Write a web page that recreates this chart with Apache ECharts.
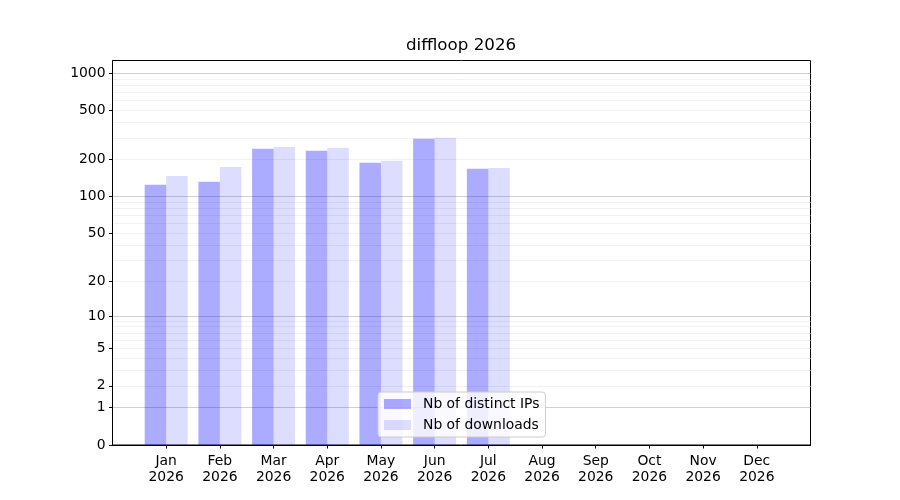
<!DOCTYPE html>
<html>
<head>
<meta charset="utf-8">
<script src="https://cdn.jsdelivr.net/npm/echarts@6/dist/echarts.min.js"></script>
<style>
  html, body { margin: 0; padding: 0; background: #fff; }
  #chart { width: 900px; height: 500px; }
</style>
</head>
<body>
<div id="chart"></div>
<script>
// data
const months = ['Jan', 'Feb', 'Mar', 'Apr', 'May', 'Jun', 'Jul', 'Aug', 'Sep', 'Oct', 'Nov', 'Dec'];
const year = '2026';
const distinctIps = [125, 132, 244, 235, 188, 294, 168, null, null, null, null, null];
const downloads = [147, 174, 253, 249, 195, 300, 171, null, null, null, null, null];
const yTicks = [0, 1, 2, 5, 10, 20, 50, 100, 200, 500, 1000];
const yMajorGrid = [1, 10, 100, 1000];
const yMinorGrid = [2, 3, 4, 5, 6, 7, 8, 9, 20, 30, 40, 50, 60, 70, 80, 90, 200, 300, 400, 500, 600, 700, 800, 900];

// symlog-like scale: log10(1 + v)
const fwd = v => (v == null ? null : Math.log10(1 + v));
const inv = t => Math.round(Math.pow(10, t) - 1);
const yMax = 3.102;

// pad one empty slot on each side, like matplotlib's margins
const cats = [''].concat(months.map(m => m + '\n' + year), ['']);
const pad = arr => [null].concat(arr.map(fwd), [null]);

const font = 'DejaVu Sans';
const chart = echarts.init(document.getElementById('chart'));

const hiddenY = (vals, color) => ({
  type: 'value',
  min: 0,
  max: yMax,
  position: 'left',
  axisLine: { show: false },
  axisLabel: { show: false },
  axisTick: { show: false, customValues: vals.map(fwd) },
  splitLine: { show: true, lineStyle: { color: color, width: 0.8 } }
});

chart.setOption({
  animation: false,
  title: {
    text: 'diffloop 2026',
    left: 406,
    top: 37,
    padding: 0,
    textStyle: { fontFamily: font, fontSize: 16.7, fontWeight: 'normal', color: '#000' }
  },
  legend: {
    orient: 'vertical',
    left: 378,
    top: 392,
    padding: [5, 6, 5, 6],
    itemGap: 7,
    itemWidth: 27,
    itemHeight: 10,
    icon: 'rect',
    borderColor: '#cccccc',
    borderWidth: 1,
    borderRadius: 3,
    backgroundColor: 'rgba(255,255,255,0.8)',
    textStyle: { fontFamily: font, fontSize: 13.9, color: '#000', lineHeight: 14, padding: [0, 0, 0, 7] },
    data: ['Nb of distinct IPs', 'Nb of downloads']
  },
  grid: {
    left: 112.5,
    right: 89.5,
    top: 60.5,
    bottom: 55,
    show: true,
    borderColor: '#000',
    borderWidth: 1,
    backgroundColor: 'transparent'
  },
  xAxis: {
    type: 'category',
    data: cats,
    boundaryGap: false,
    axisLine: { lineStyle: { color: '#000', width: 1 } },
    axisTick: {
      length: 3.5,
      interval: (i) => i > 0 && i < cats.length - 1,
      lineStyle: { color: '#000' }
    },
    axisLabel: {
      interval: 0,
      margin: 8.5,
      fontFamily: font,
      fontSize: 13.9,
      lineHeight: 16,
      color: '#000'
    },
    splitLine: { show: false }
  },
  yAxis: [
    {
      type: 'value',
      min: 0,
      max: yMax,
      axisLine: { show: true, lineStyle: { color: '#000', width: 1 } },
      axisTick: { show: true, length: 3.5, customValues: yTicks.map(fwd), lineStyle: { color: '#000' } },
      axisLabel: {
        customValues: yTicks.map(fwd),
        formatter: v => String(inv(v)),
        margin: 7,
        fontFamily: font,
        fontSize: 13.9,
        color: '#000'
      },
      splitLine: { show: false }
    },
    hiddenY(yMajorGrid, '#c4c4c4'),
    hiddenY(yMinorGrid, '#ededed')
  ],
  series: [
    {
      name: 'Nb of distinct IPs',
      type: 'bar',
      data: pad(distinctIps),
      barWidth: 21.5,
      barGap: '0%',
      itemStyle: { color: 'rgba(0,0,255,0.33)' }
    },
    {
      name: 'Nb of downloads',
      type: 'bar',
      data: pad(downloads),
      barWidth: 21.5,
      barGap: '0%',
      itemStyle: { color: 'rgba(0,0,255,0.133)' }
    }
  ]
});
</script>
</body>
</html>
